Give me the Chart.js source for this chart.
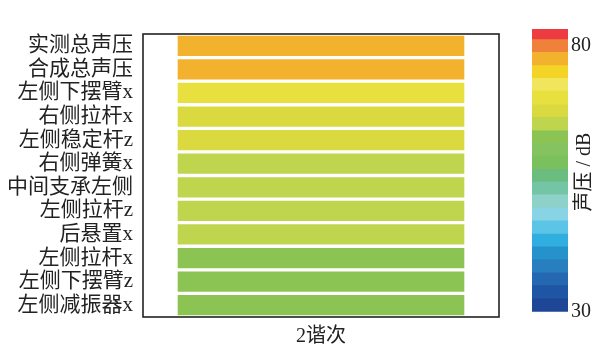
<!DOCTYPE html>
<html><head><meta charset="utf-8">
<script src="https://cdn.jsdelivr.net/npm/chart.js@4"></script>
<style>
html,body{margin:0;padding:0;background:#fff;overflow:hidden;width:597px;height:347px}
#main{position:absolute;left:0;top:0}
#cbar{position:absolute;left:520px;top:0}
</style></head><body>
<canvas id="main" width="520" height="347"></canvas>
<canvas id="cbar" width="77" height="347"></canvas>
<script>
const categories = ['实测总声压','合成总声压','左侧下摆臂x','右侧拉杆x','左侧稳定杆z','右侧弹簧x','中间支承左侧','左侧拉杆z','后悬置x','左侧拉杆x','左侧下摆臂z','左侧减振器x'];
const harmonic = '2谐次';
const soundPressure = [77.6, 77.3, 70.2, 68.4, 67.9, 66.0, 65.7, 65.4, 65.0, 63.5, 63.2, 62.8];
const levelBounds = [30, 32.4, 34.9, 37.3, 39.8, 42.2, 44.6, 47.1, 49.5, 52.0, 54.4, 56.8, 59.3, 61.7, 64.1, 66.6, 69.0, 71.5, 73.9, 76.3, 78.8, 81.2, 83.2];
const levelColors = ['#1E4697','#1E55A4','#2368B1','#287FC0','#2592CB','#30AEE0','#5CC5E7','#88D4E4','#8ED1C8','#74C5A6','#6ABD7E','#7AC05C','#84C35F','#8CC453','#BFD54E','#DAD93F','#E8E03E','#F2E55E','#F4D527','#F3B22E','#F0813A','#EE3B42'];
const colorTicks = [30, 80];
const colorTitle = '声压 / dB';

const family = '"Liberation Serif", "Noto Sans CJK SC", serif';

function colorFor(v){
  for (let j = 0; j < levelColors.length; j++) {
    if (v >= levelBounds[j] && v < levelBounds[j+1]) return levelColors[j];
  }
  return levelColors[levelColors.length-1];
}

const boxPlugin = {id:'box', afterDraw(chart){
  const {ctx, chartArea:a} = chart;
  ctx.save(); ctx.strokeStyle = '#222'; ctx.lineWidth = 1.6;
  ctx.strokeRect(a.left, a.top, a.right - a.left, a.bottom - a.top);
  ctx.restore();
}};

new Chart(document.getElementById('main'), {
  type: 'bar',
  data: { labels: categories, datasets: [{
    data: soundPressure.map(() => [0, 1]),
    backgroundColor: soundPressure.map(colorFor),
    barPercentage: 0.86, categoryPercentage: 1, borderWidth: 0
  }]},
  options: {
    indexAxis: 'y', responsive: false, animation: false, events: [],
    layout: {padding: {top: 34, right: 21, left: 0, bottom: 0}},
    plugins: {legend: {display: false}, tooltip: {enabled: false}},
    scales: {
      x: { type: 'linear', min: -0.121, max: 1.121, grid: {display: false, drawTicks: false}, border: {display: false},
           ticks: {display: false},
           title: {display: true, text: harmonic, font: {family, size: 20, lineHeight: 1}, color: '#222', padding: 0},
           afterFit(s){ s.height = 30; } },
      y: { grid: {display: false, drawTicks: false}, border: {display: false},
           ticks: {font: {family, size: 21}, color: '#222', padding: 10, autoSkip: false},
           afterFit(s){ s.width = 143; } }
    }
  },
  plugins: [boxPlugin]
});

const titlePlugin = {id:'cbTitle', afterDraw(chart){
  const ctx = chart.ctx;
  ctx.save();
  ctx.translate(65, 172);
  ctx.rotate(-Math.PI/2);
  ctx.fillStyle = '#222';
  ctx.font = '20px ' + family;
  ctx.textAlign = 'center'; ctx.textBaseline = 'middle';
  ctx.fillText(colorTitle, 0, 0);
  ctx.restore();
}};

new Chart(document.getElementById('cbar'), {
  type: 'bar',
  data: { labels: [''], datasets: levelColors.map((c, j) => ({
    data: [[levelBounds[j], levelBounds[j+1]]], backgroundColor: c, grouped: false,
    barPercentage: 1, categoryPercentage: 1, borderWidth: 0
  }))},
  options: {
    responsive: false, animation: false, events: [],
    layout: {padding: {top: 29, left: 12, bottom: 35.3, right: 0}},
    plugins: {legend: {display: false}, tooltip: {enabled: false}},
    scales: {
      x: {display: false},
      y: { position: 'right', min: 30, max: 83.2, grid: {display: false, drawTicks: false}, border: {display: false},
           afterBuildTicks(s){ s.ticks = colorTicks.map(v => ({value: v})); },
           ticks: {font: {family, size: 20}, color: '#222', padding: 3},
           afterFit(s){ s.width = 29; } }
    }
  },
  plugins: [titlePlugin]
});
</script>
</body></html>
